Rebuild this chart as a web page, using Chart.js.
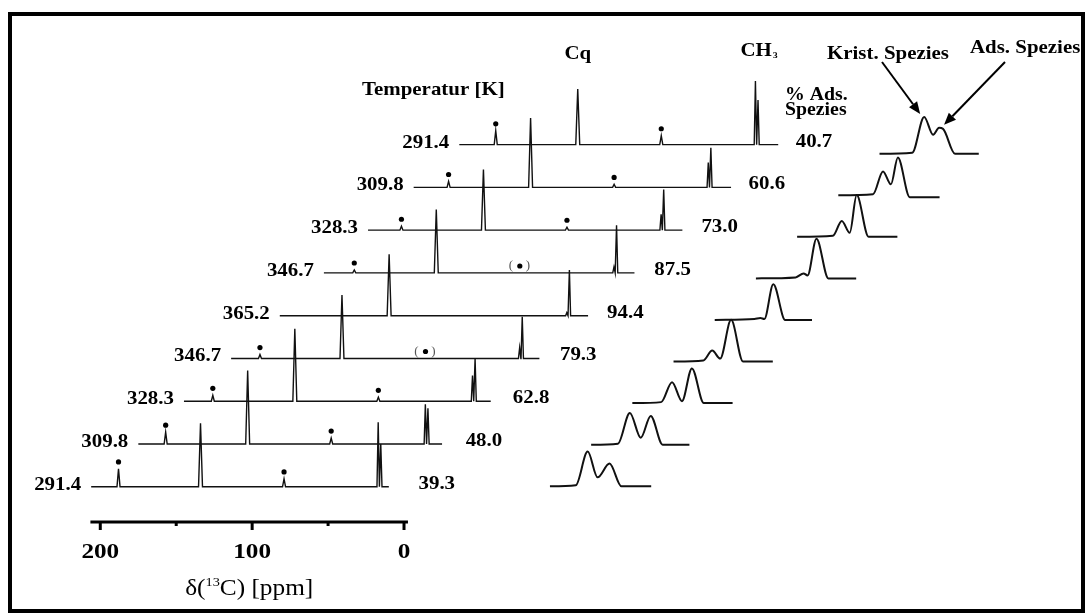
<!DOCTYPE html>
<html lang="de">
<head>
<meta charset="UTF-8">
<title>13C-NMR Spektren, Temperaturserie</title>
<style>
  body { margin: 0; background: #fff; }
  #wrap { position: relative; width: 1087px; height: 615px; }
  #frame { position: absolute; left: 8px; top: 12px; width: 1069px; height: 593px; border: 4px solid #000; pointer-events: none; }
  #nmr { position: absolute; left: 0; top: 0; }
</style>
<script src="https://cdn.jsdelivr.net/npm/chart.js"></script>
</head>
<body>
<div id="wrap">
  <canvas id="nmr" width="1087" height="615"></canvas>
  <div id="frame"></div>
</div>
<script>
// spectra from bottom to top
const temperatures = ["291.4", "309.8", "328.3", "346.7", "365.2", "346.7", "328.3", "309.8", "291.4"];
const adsPercent = ["39.3", "48.0", "62.8", "79.3", "94.4", "87.5", "73.0", "60.6", "40.7"];

// peak positions [ppm]
const cqPpm = 134;
const ch3KristPpm = 17.0;
const ch3AdsPpm = 15.3;
const dotPpm = [188, 79];

// peak heights (arbitrary intensity)
const cqHeight = [64, 74, 73, 64, 62, 64, 61, 70, 56];
const ch3KristHeight = [65, 40, 26, 11, 3, 6, 16, 25, 64];
const ch3AdsHeight = [43, 36, 43, 42, 46, 48, 41, 40, 45];
const dot1Height = [18, 12, 6, 4, 0, 3, 4, 6, 14];
const dot2Height = [8, 6, 4, 0, 0, 0, 3, 3, 9];
const dotMarked = [true, true, true, true, false, true, true, true, true];
const dot2Bracketed = [false, false, false, true, false, true, false, false, false];

// recorded window of each spectrum [ppm]
const rangeStart = [206, 206, 207, 207, 206, 208, 210, 211, 212];
const rangeEnd = [10, 6, 5, 4, 3, 3.5, 3, 2, 2];

// CH3 region insets: [position, intensity]
const insetTraces = [
  [[0, 0], [26, 1], [38, 35], [48, 9], [60, 23], [72, 0], [102, 0]],
  [[0, 0], [27, 1], [39, 32], [50, 7], [60, 29], [72, 0], [99, 0]],
  [[0, 0], [29, 1], [40, 21], [50, 2], [60, 35], [72, 0], [101, 0]],
  [[0, 0], [30, 1], [39, 11], [47, 3], [58, 42], [70, 0], [100, 0]],
  [[0, 0], [40, 1], [46, 2], [50, 1], [59, 36], [71, 0], [98, 0]],
  [[0, 0], [40, 1], [48, 5], [52, 3], [61, 40], [73, 0], [101, 0]],
  [[0, 0], [36, 1], [45, 16], [53, 4], [60, 42], [72, 0], [101, 0]],
  [[0, 0], [35, 1], [45, 24], [53, 11], [60, 38], [72, -2], [102, -2]],
  [[0, 0], [33, 1], [45, 37], [54, 19], [60, 26], [64, 25], [76, 0], [100, 0]]
];

const axisTicks = [200, 150, 100, 50, 0];

// stacking of the plot
const shiftPpm = 31.05;
const baseOf = (i) => 35.5 + i * 43.1;
const insetX = (i) => 550 + i * 41.5;
const insetBase = (i) => 36 + i * 41.9;

const serif = "'Liberation Serif', 'Times New Roman', serif";

function spectrumPoints(i) {
  const peaks = [
    [dotPpm[0], dot1Height[i], 1.0],
    [cqPpm, cqHeight[i], 1.3],
    [dotPpm[1], dot2Height[i], 1.0],
    [ch3KristPpm, ch3KristHeight[i], 0.8],
    [ch3AdsPpm, ch3AdsHeight[i], 0.8]
  ];
  const pts = [[rangeStart[i], 0]];
  peaks.forEach(([p, h, w]) => {
    if (h <= 0) return;
    pts.push([p + w, 0], [p, h], [p - w, 0]);
  });
  pts.push([rangeEnd[i], 0]);
  return pts.map(([p, h]) => ({ x: p - i * shiftPpm, y: baseOf(i) + h }));
}

const datasets = [];
temperatures.forEach((t, i) => {
  datasets.push({
    label: t + " K",
    data: spectrumPoints(i),
    showLine: true,
    borderColor: "#111",
    borderWidth: 1.4,
    pointRadius: 0
  });
});

const dotData = [];
temperatures.forEach((t, i) => {
  if (!dotMarked[i]) return;
  dotData.push({ x: dotPpm[0] - i * shiftPpm, y: baseOf(i) + dot1Height[i] + 7 });
  dotData.push({ x: dotPpm[1] - i * shiftPpm, y: baseOf(i) + dot2Height[i] + 7 });
});
datasets.push({
  label: "dots",
  data: dotData,
  showLine: false,
  pointRadius: 2.6,
  pointBackgroundColor: "#000",
  pointBorderWidth: 0
});

insetTraces.forEach((trace, i) => {
  datasets.push({
    label: "inset " + temperatures[i],
    xAxisID: "xi",
    data: trace.map(([u, h]) => ({ x: insetX(i) + u, y: insetBase(i) + h })),
    showLine: true,
    borderColor: "#111",
    borderWidth: 2,
    cubicInterpolationMode: "monotone",
    pointRadius: 0
  });
});

function stretchText(ctx, text, x, y, font, align, sx) {
  ctx.save();
  ctx.font = font;
  ctx.translate(x, y);
  ctx.scale(sx, 1);
  ctx.textAlign = align;
  ctx.textBaseline = "alphabetic";
  ctx.fillText(text, 0, 0);
  ctx.restore();
}

function arrow(ctx, x1, y1, x2, y2) {
  const a = Math.atan2(y2 - y1, x2 - x1);
  const L = 12, W = 5;
  const bx = x2 - L * Math.cos(a), by = y2 - L * Math.sin(a);
  ctx.lineWidth = 2;
  ctx.beginPath();
  ctx.moveTo(x1, y1);
  ctx.lineTo(bx, by);
  ctx.stroke();
  ctx.beginPath();
  ctx.moveTo(x2, y2);
  ctx.lineTo(bx + W * Math.sin(a), by - W * Math.cos(a));
  ctx.lineTo(bx - W * Math.sin(a), by + W * Math.cos(a));
  ctx.closePath();
  ctx.fill();
}

const decorations = {
  id: "decorations",
  afterDatasetsDraw(chart) {
    const { ctx, chartArea } = chart;
    const x = chart.scales.x, y = chart.scales.y;
    ctx.save();
    ctx.fillStyle = "#000";
    ctx.strokeStyle = "#000";

    // ppm axis
    const ay = chartArea.bottom;
    ctx.lineWidth = 3;
    ctx.beginPath();
    ctx.moveTo(x.getPixelForValue(206.5), ay);
    ctx.lineTo(x.getPixelForValue(-2.6), ay);
    ctx.stroke();
    axisTicks.forEach((v) => {
      const px = x.getPixelForValue(v);
      const len = v % 100 === 0 ? 8 : 4;
      ctx.beginPath();
      ctx.moveTo(px, ay);
      ctx.lineTo(px, ay + len);
      ctx.stroke();
      if (v % 100 === 0) {
        stretchText(ctx, String(v), px, ay + 36, "bold 21px " + serif, "center", 1.2);
      }
    });

    // axis title with superscript
    const parts = [["δ(", "23px " + serif, 0], ["13", "13px " + serif, -9], ["C) [ppm]", "23px " + serif, 0]];
    const sx = 1.1;
    let total = 0;
    parts.forEach(([t, f]) => { ctx.font = f; total += ctx.measureText(t).width * sx; });
    let cx = (x.getPixelForValue(206.5) + x.getPixelForValue(-2.6)) / 2 - total / 2;
    parts.forEach(([t, f, dy]) => {
      stretchText(ctx, t, cx, ay + 73 + dy, f, "left", sx);
      ctx.font = f;
      cx += ctx.measureText(t).width * sx;
    });

    // temperatures and % adsorbed species
    const bold = "bold 19px " + serif;
    temperatures.forEach((t, i) => {
      const by = y.getPixelForValue(baseOf(i));
      stretchText(ctx, t, x.getPixelForValue(rangeStart[i] - i * shiftPpm) - 10, by + 3, bold, "right", 1.1);
      stretchText(ctx, adsPercent[i], x.getPixelForValue(ch3AdsPpm - i * shiftPpm) + 56, by + 2, bold, "center", 1.1);
    });

    // brackets around uncertain marks
    temperatures.forEach((t, i) => {
      if (!dot2Bracketed[i]) return;
      const px = x.getPixelForValue(dotPpm[1] - i * shiftPpm);
      const py = y.getPixelForValue(baseOf(i) + dot2Height[i] + 7);
      ctx.save();
      ctx.fillStyle = "#555";
      ctx.font = "13px " + serif;
      ctx.textAlign = "center";
      ctx.textBaseline = "middle";
      ctx.fillText("(", px - 9, py);
      ctx.fillText(")", px + 8, py);
      ctx.restore();
    });

    // headers
    const top = temperatures.length - 1;
    stretchText(ctx, "Temperatur [K]", 362, 95, bold, "left", 1.1);
    stretchText(ctx, "Cq", x.getPixelForValue(cqPpm - top * shiftPpm), 59, bold, "center", 1.1);
    const chX = x.getPixelForValue(ch3KristPpm - top * shiftPpm) - 15;
    stretchText(ctx, "CH", chX, 56, bold, "left", 1.1);
    ctx.font = bold;
    stretchText(ctx, "3", chX + ctx.measureText("CH").width * 1.1 + 1, 58, "bold 9px " + serif, "left", 1.1);
    stretchText(ctx, "% Ads.", 785, 100, "bold 18px " + serif, "left", 1.1);
    stretchText(ctx, "Spezies", 785, 115, "bold 18px " + serif, "left", 1.1);
    stretchText(ctx, "Krist. Spezies", 827, 59, bold, "left", 1.1);
    stretchText(ctx, "Ads. Spezies", 970, 53, bold, "left", 1.1);

    // arrows onto the top inset peaks
    const xi = chart.scales.xi;
    const tr = insetTraces[top];
    const kx = xi.getPixelForValue(insetX(top) + tr[2][0]);
    const ky = y.getPixelForValue(insetBase(top) + tr[2][1]);
    const ax = xi.getPixelForValue(insetX(top) + tr[4][0]);
    const ayy = y.getPixelForValue(insetBase(top) + tr[4][1]);
    arrow(ctx, 882, 62, kx - 4, ky - 3);
    arrow(ctx, 1005, 62, ax + 5, ayy - 3);

    ctx.restore();
  }
};

new Chart(document.getElementById("nmr"), {
  type: "scatter",
  data: { datasets: datasets },
  options: {
    responsive: false,
    animation: false,
    devicePixelRatio: 1,
    layout: { padding: { left: 0, right: 0, top: 0, bottom: 93 } },
    plugins: { legend: { display: false }, tooltip: { enabled: false } },
    scales: {
      x: { type: "linear", reverse: true, min: -447.1, max: 263.4, display: false },
      xi: { type: "linear", axis: "x", min: 0, max: 1087, display: false },
      y: { type: "linear", min: 0, max: 522, display: false }
    }
  },
  plugins: [decorations]
});
</script>
</body>
</html>
